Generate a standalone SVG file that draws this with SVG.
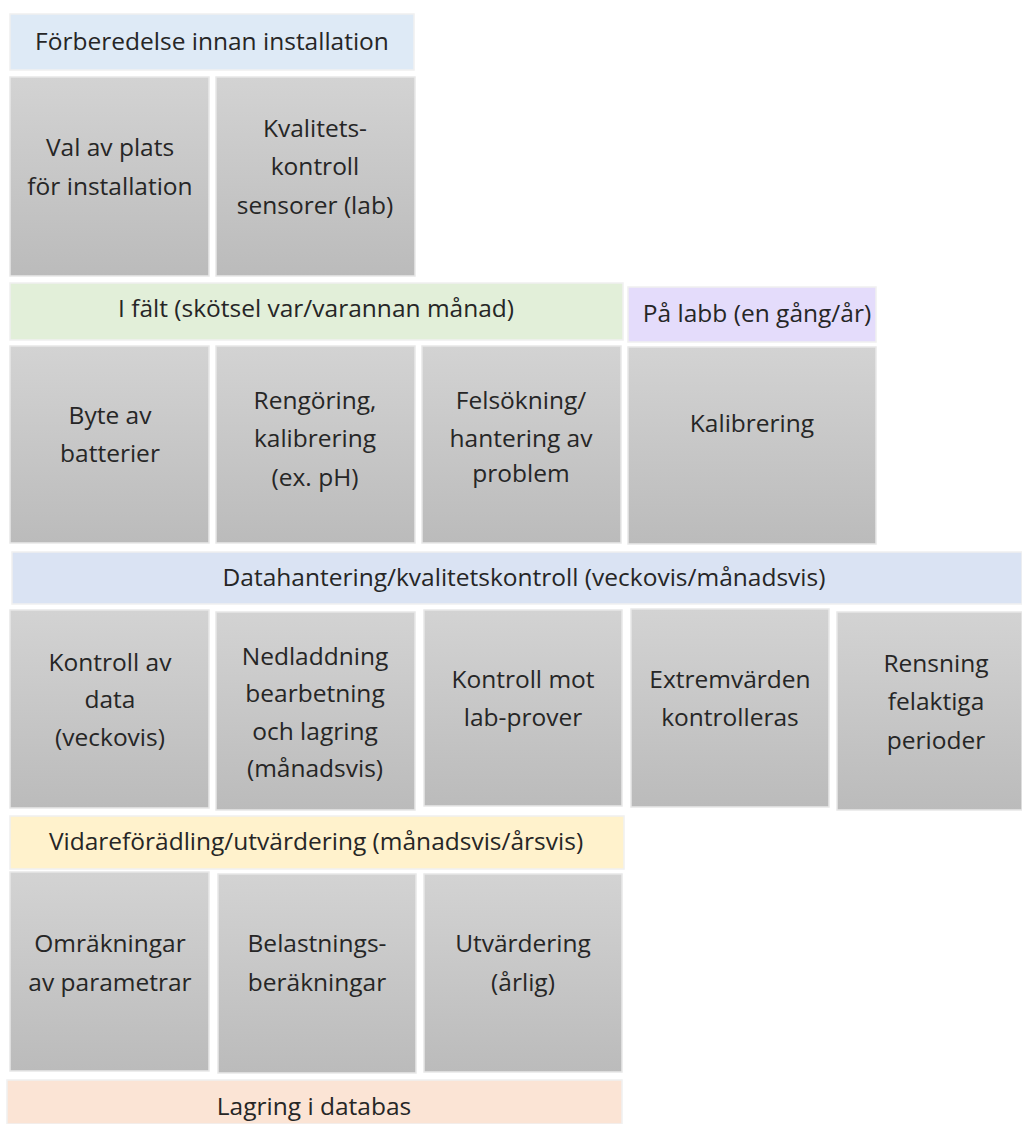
<svg xmlns="http://www.w3.org/2000/svg" width="1022" height="1124" viewBox="0 0 1022 1124">
<defs>
<linearGradient id="g" x1="0" y1="0" x2="0" y2="1">
<stop offset="0" stop-color="#d3d3d3"/>
<stop offset="1" stop-color="#bbbbbb"/>
</linearGradient>
<style>
text{font-family:"Open Sans","Noto Sans","DejaVu Sans",sans-serif;font-size:24.5px;fill:#262626;text-anchor:middle}
.box{fill:url(#g);stroke:#e8e8e8;stroke-width:1.5}
.hd{stroke:#f0f0f0;stroke-width:1.5}
</style>
</defs>
<rect width="1022" height="1124" fill="#ffffff"/>

<g id="h1"><rect class="hd" x="10" y="14" width="404" height="56" fill="#deeaf6"/><text x="212" y="50">Förberedelse innan installation</text></g>
<g id="n1"><rect class="box" x="10" y="77" width="199" height="199"/><text x="110" y="156">Val av plats</text><text x="110" y="195">för installation</text></g>
<g id="n2"><rect class="box" x="216" y="77" width="199" height="199"/><text x="315" y="137">Kvalitets-</text><text x="315" y="175">kontroll</text><text x="315" y="214">sensorer (lab)</text></g>

<g id="h2"><rect class="hd" x="10" y="283" width="613" height="57" fill="#e2efd9"/><text x="316" y="317">I fält (skötsel var/varannan månad)</text></g>
<g id="h3"><rect class="hd" x="628" y="287" width="248" height="55" fill="#e4dcfb"/><text x="757" y="322">På labb (en gång/år)</text></g>
<g id="n3"><rect class="box" x="10" y="346" width="199" height="197"/><text x="110" y="424">Byte av</text><text x="110" y="462">batterier</text></g>
<g id="n4"><rect class="box" x="216" y="346" width="199" height="197"/><text x="315" y="409">Rengöring,</text><text x="315" y="447">kalibrering</text><text x="315" y="486">(ex. pH)</text></g>
<g id="n5"><rect class="box" x="422" y="346" width="199" height="197"/><text x="521" y="409">Felsökning/</text><text x="521" y="447">hantering av</text><text x="521" y="482">problem</text></g>
<g id="n6"><rect class="box" x="628" y="347" width="248" height="197"/><text x="752" y="432">Kalibrering</text></g>

<g id="h4"><rect class="hd" x="12" y="552" width="1010" height="52" fill="#dae3f3"/><text x="524" y="586">Datahantering/kvalitetskontroll (veckovis/månadsvis)</text></g>
<g id="n7"><rect class="box" x="10" y="610" width="199" height="198"/><text x="110" y="671">Kontroll av</text><text x="110" y="708">data</text><text x="110" y="746">(veckovis)</text></g>
<g id="n8"><rect class="box" x="216" y="612" width="199" height="198"/><text x="315" y="665">Nedladdning</text><text x="315" y="702">bearbetning</text><text x="315" y="740">och lagring</text><text x="315" y="777">(månadsvis)</text></g>
<g id="n9"><rect class="box" x="424" y="610" width="198" height="196"/><text x="523" y="688">Kontroll mot</text><text x="523" y="726">lab-prover</text></g>
<g id="n10"><rect class="box" x="631" y="609" width="198" height="198"/><text x="730" y="688">Extremvärden</text><text x="730" y="726">kontrolleras</text></g>
<g id="n11"><rect class="box" x="837" y="612" width="185" height="198"/><text x="936" y="672">Rensning</text><text x="936" y="710">felaktiga</text><text x="936" y="749">perioder</text></g>

<g id="h5"><rect class="hd" x="10" y="816" width="614" height="53" fill="#fff2cc"/><text x="316" y="850">Vidareförädling/utvärdering (månadsvis/årsvis)</text></g>
<g id="n12"><rect class="box" x="10" y="872" width="199" height="199"/><text x="110" y="952">Omräkningar</text><text x="110" y="991">av parametrar</text></g>
<g id="n13"><rect class="box" x="218" y="874" width="198" height="199"/><text x="317" y="952">Belastnings-</text><text x="317" y="991">beräkningar</text></g>
<g id="n14"><rect class="box" x="424" y="874" width="198" height="198"/><text x="523" y="952">Utvärdering</text><text x="523" y="991">(årlig)</text></g>

<g id="h6"><rect class="hd" x="7" y="1080" width="615" height="44" fill="#fbe4d5"/><text x="314" y="1115">Lagring i databas</text></g>

<g id="connectors"></g>
</svg>
